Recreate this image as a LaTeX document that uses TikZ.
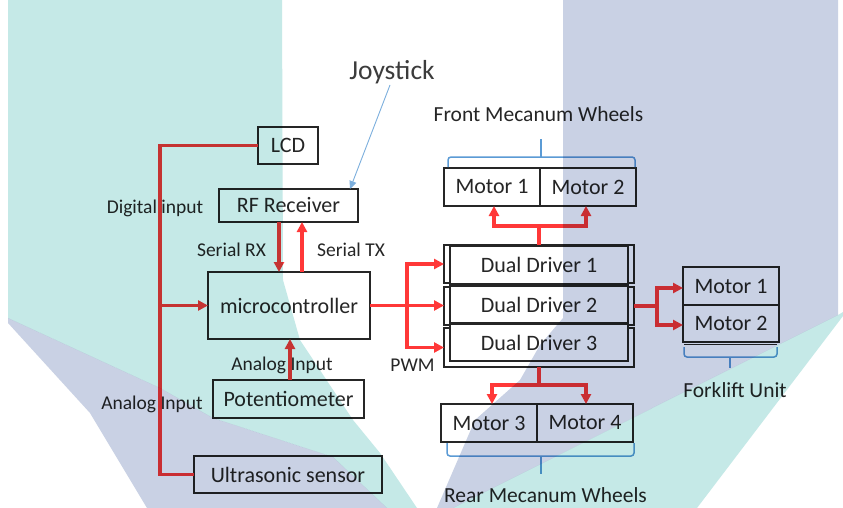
\documentclass[tikz,border=0pt]{standalone}
\usepackage{fontspec}
\setmainfont{Carlito}
\usetikzlibrary{arrows.meta,calc}
\definecolor{rd}{HTML}{FF3838}
\definecolor{bx}{HTML}{262626}
\definecolor{tx}{HTML}{262626}
\definecolor{bl}{HTML}{5B9BD5}
\definecolor{tealbg}{HTML}{C5E9E7}
\definecolor{lavbg}{HTML}{C9D1E4}
\begin{document}
\begin{tikzpicture}[x=1pt,y=-1pt,
  box/.style={draw=bx, line width=1.2pt, fill=white, inner sep=0pt, outer sep=0pt,
    text=tx, font=\fontsize{22}{26}\selectfont},
  lbl/.style={text=tx, font=\fontsize{19.5}{23}\selectfont, inner sep=0pt, anchor=base},
  sect/.style={text=tx, font=\fontsize{21.5}{25}\selectfont, inner sep=0pt, anchor=base},
  wire/.style={draw=rd, line width=3.5pt, line join=miter},
  arr/.style={wire, -{Triangle[length=10pt,width=10pt]}},
  bracestyle/.style={draw=bl, line width=1.5pt, rounded corners=3pt},
  blarrow/.style={draw=bl!80, line width=0.9pt, -{Triangle[length=8pt,width=7pt]}}]
\useasboundingbox (0,0) rectangle (843,508);
\fill[white] (0,0) rectangle (843,508);

% boxes
\node[box, minimum width=60pt, minimum height=37pt] (lcd) at (288,145.5) {LCD};
\node[box, minimum width=139pt, minimum height=33pt] (rf) at (288.5,205.5) {RF Receiver};
\node[box, minimum width=162pt, minimum height=67pt] (mc) at (289,305.5) {microcontroller};
\node[box, minimum width=151pt, minimum height=38pt] (pot) at (288.5,399) {Potentiometer};
\node[box, minimum width=188pt, minimum height=37pt] (us) at (288,474.5) {Ultrasonic sensor};

\node[box, minimum width=96pt, minimum height=38pt] (fm1) at (492,187) {Motor 1};
\node[box, minimum width=96pt, minimum height=38pt] (fm2) at (588,187) {Motor 2};

\node[box, minimum width=190pt, minimum height=38pt] (d1o) at (539,264) {};
\node[box, minimum width=190pt, minimum height=38pt] (d2o) at (539,306) {};
\node[box, minimum width=190pt, minimum height=39pt] (d3o) at (539,347.5) {};
\node[box, minimum width=178pt, minimum height=38pt] (d1) at (539,265) {Dual Driver 1};
\node[box, minimum width=178pt, minimum height=37pt] (d2) at (539,304.5) {Dual Driver 2};
\node[box, minimum width=178pt, minimum height=37pt] (d3) at (539,342.5) {Dual Driver 3};

\node[box, minimum width=96pt, minimum height=38pt] (rm3) at (489,423) {Motor 3};
\node[box, minimum width=96pt, minimum height=38pt] (rm4) at (585,423) {Motor 4};

\draw[bx, line width=1pt] (684,344.5) -- (777,344.5);
\node[box, minimum width=96pt, minimum height=38pt] (fk1) at (731,286) {Motor 1};
\node[box, minimum width=96pt, minimum height=37pt] (fk2) at (731,323.5) {Motor 2};

% labels
\node[lbl] (ldig) at (155,213) {Digital input};
\node[lbl] (lrx) at (231.5,256) {Serial RX};
\node[lbl] (ltx) at (351,256) {Serial TX};
\node[lbl] (lan1) at (282,370) {Analog Input};
\node[lbl] (lan2) at (152,409) {Analog Input};
\node[lbl] (lpwm) at (412.5,371) {PWM};
\node[text=tx!90!white, font=\fontsize{27.5}{32}\selectfont, inner sep=0pt, anchor=base] (joy) at (392,80) {Joystick};
\node[sect] (lfront) at (538.5,122) {Front Mecanum Wheels};
\node[sect] (lrear) at (545.5,502) {Rear Mecanum Wheels};
\node[sect] (lfork) at (735,397) {Forklift Unit};

% bus on the left
\coordinate (bt) at (160,145.5);
\coordinate (bm) at (160,305.5);
\coordinate (bb) at (160,474.5);
\draw[wire] (lcd.west) -- (bt) -- (bb) -- (us.west);
\draw[arr] (bm) -- (mc.west);

% serial links
\draw[arr] ([xshift=-9.5pt]rf.south) -- ([xshift=-9.5pt]rf.south |- mc.north);
\draw[arr] ([xshift=13.5pt]rf.south |- mc.north) -- ([xshift=13.5pt]rf.south);
\draw[arr] ([xshift=1.5pt]pot.north) -- ([xshift=1.5pt]pot.north |- mc.south);

% PWM
\coordinate (pwm) at (407,305.5);
\draw[wire] (mc.east) -- (pwm);
\draw[arr] (pwm) |- (d1o.west);
\draw[arr] (pwm) -- (d2o.west |- pwm);
\draw[arr] (pwm) |- (d3o.west);

% front motors
\coordinate (fj) at (539,226);
\draw[wire] (d1o.north) -- (fj);
\draw[arr] (fj) -| ([xshift=2pt]fm1.south);
\draw[arr] (fj) -| ([xshift=-2pt]fm2.south);

% rear motors
\coordinate (rj) at (539,385);
\draw[wire] (d3o.south) -- (rj);
\draw[arr] (rj) -| ([xshift=3pt]rm3.north);
\draw[arr] (rj) -| ([xshift=1pt]rm4.north);

% forklift
\coordinate (kj) at (657,306);
\draw[wire] (d2o.east) -- (kj);
\draw[arr] (kj) |- ([yshift=-2pt]fk1.west);
\draw[arr] (kj) |- ([yshift=-1.5pt]fk2.west);

% joystick pointer
\draw[blarrow] (390,85) -- ($(rf.north east)+(-8,0)$);

% braces
\draw[bracestyle] (448,167) -- (448,157) -- (635,157) -- (635,167);
\draw[bl, line width=1.5pt] (541,157) -- (541,139);
\draw[bracestyle] (447,443) -- (447,456) -- (634,456) -- (634,443);
\draw[bl, line width=1.5pt] (541,456) -- (541,474);
\draw[bracestyle] (684,347) -- (684,357) -- (777,357) -- (777,347);
\draw[bl, line width=1.5pt] (730,357) -- (730,368);

% background overlay
\begin{scope}[blend mode=multiply]
\fill[tealbg] (8,0) -- (282,0) -- (283,280) -- (300,340) -- (353,420) -- (380,453) -- (417,508)
  -- (387,508) -- (333,457) -- (213,418) -- (160,388) -- (8,318) -- cycle;
\fill[lavbg] (8,318) -- (160,388) -- (213,418) -- (333,457) -- (387,508) -- (147,508)
  -- (90,413) -- (8,323) -- cycle;
\fill[lavbg] (563,0) -- (838,0) -- (838,315) -- (453,508) -- (437,508) -- (475,420)
  -- (520,380) -- (540,345) -- (563,318) -- cycle;
\fill[tealbg] (843,312) -- (843,316) -- (697,508) -- (453,508) -- (838,315) -- cycle;
\end{scope}
\end{tikzpicture}
\end{document}
